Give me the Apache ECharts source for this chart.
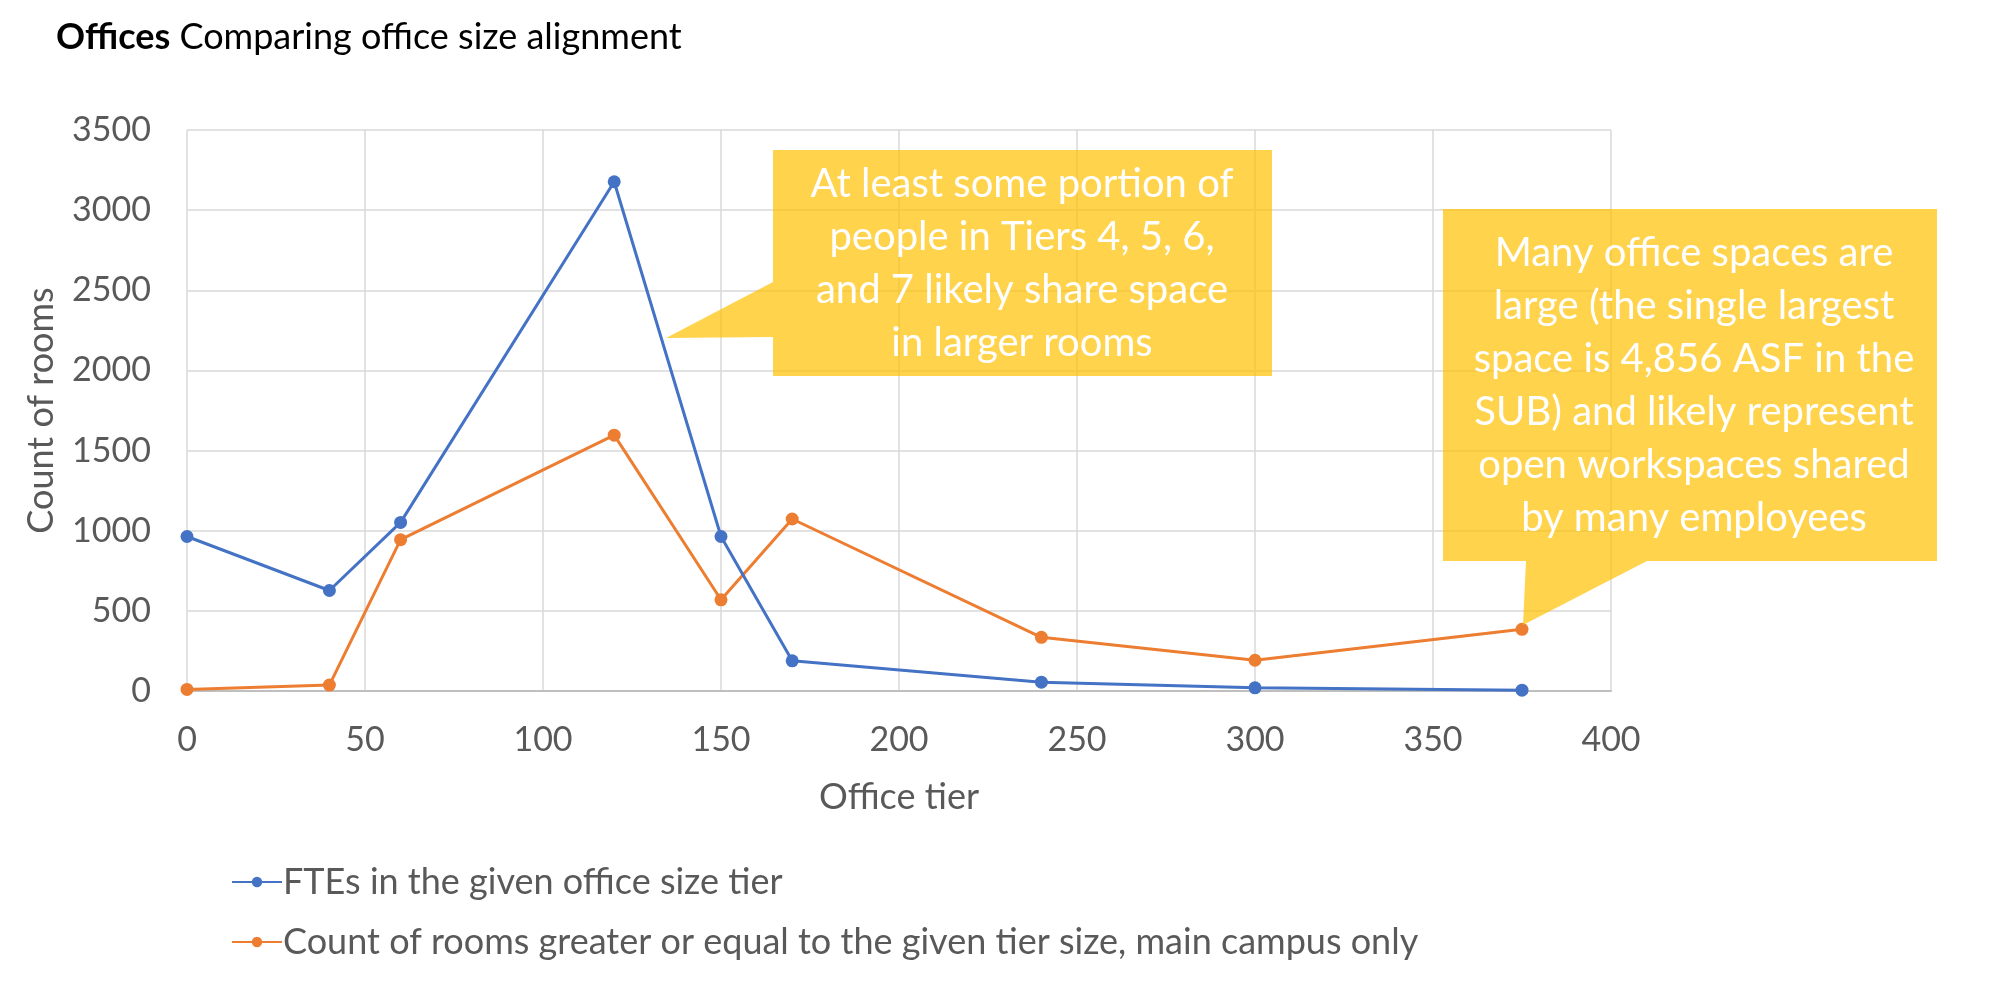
<!DOCTYPE html>
<html>
<head>
    <meta charset="utf-8">
    <title>Offices</title>
    <script src="https://cdn.jsdelivr.net/npm/echarts@6/dist/echarts.min.js"></script>
    <style>
        html, body { margin: 0; padding: 0; background: #fff; }
    </style>
</head>
<body>
    <div id="main" style="width: 2000px;height:1001px;"></div>
    <script type="text/javascript">
        // office tier (x) and the two series
        var tiers = [0, 40, 60, 120, 150, 170, 240, 300, 375];
        var ftes = [964, 627, 1052, 3177, 964, 188, 55, 20, 5];
        var rooms = [10, 37, 944, 1596, 569, 1073, 335, 192, 385];
        var seriesNames = [
            'FTEs in the given office size tier',
            'Count of rooms greater or equal to the given tier size, main campus only'
        ];
        var note1 = 'At least some portion of\npeople in Tiers 4, 5, 6,\nand 7 likely share space\nin larger rooms';
        var note2 = 'Many office spaces are\nlarge (the single largest\nspace is 4,856 ASF in the\nSUB) and likely represent\nopen workspaces shared\nby many employees';

        var FONT = 'Lato';
        var myChart = echarts.init(document.getElementById('main'));

        function pairs(xs, ys) {
            var out = [];
            for (var i = 0; i < xs.length; i++) {
                out.push([xs[i], ys[i]]);
            }
            return out;
        }

        var calloutFill = 'rgba(255,192,0,0.7)';

        var option = {
            animation: false,
            title: {
                left: 51,
                top: 14,
                text: '{b|Offices} Comparing office size alignment',
                textStyle: {
                    fontFamily: FONT, fontSize: 36, color: '#000', fontWeight: 'normal',
                    rich: {
                        b: { fontFamily: FONT, fontSize: 36, color: '#000', fontWeight: 'bold' }
                    }
                }
            },
            legend: {
                orient: 'vertical',
                left: 226,
                top: 859,
                itemWidth: 50,
                itemHeight: 13,
                itemGap: 24,
                textStyle: { fontFamily: FONT, fontSize: 36, color: '#595959', padding: [0, 0, 0, -4] },
                data: seriesNames
            },
            grid: { left: 187, right: 389, top: 130, bottom: 310 },
            xAxis: {
                type: 'value',
                min: 0, max: 400, interval: 50,
                name: 'Office tier',
                nameLocation: 'middle',
                nameGap: 88,
                nameTextStyle: { fontFamily: FONT, fontSize: 36, color: '#595959' },
                axisLine: { show: true, lineStyle: { color: '#BFBFBF', width: 2 } },
                axisTick: { show: false },
                axisLabel: { fontFamily: FONT, fontSize: 34, color: '#595959', margin: 32 },
                splitLine: { show: true, lineStyle: { color: '#D9D9D9', width: 1.5 } }
            },
            yAxis: {
                type: 'value',
                min: 0, max: 3500, interval: 500,
                name: 'Count of rooms',
                nameLocation: 'middle',
                nameGap: 128,
                nameTextStyle: { fontFamily: FONT, fontSize: 36, color: '#595959' },
                axisLine: { show: false },
                axisTick: { show: false },
                axisLabel: {
                    fontFamily: FONT, fontSize: 34, color: '#595959', margin: 36,
                    formatter: function (v) { return String(v); }
                },
                splitLine: { show: true, lineStyle: { color: '#D9D9D9', width: 1.5 } }
            },
            series: [{
                name: seriesNames[0],
                type: 'line',
                data: pairs(tiers, ftes),
                symbol: 'circle',
                symbolSize: 13,
                color: '#4472C4',
                lineStyle: { width: 3 },
                z: 3
            }, {
                name: seriesNames[1],
                type: 'line',
                data: pairs(tiers, rooms),
                symbol: 'circle',
                symbolSize: 13,
                color: '#ED7D31',
                lineStyle: { width: 3 },
                z: 2
            }],
            graphic: [{
                type: 'polygon',
                z: 10,
                shape: { points: [[773, 150], [1272, 150], [1272, 376], [773, 376], [773, 337], [666, 338], [773, 282]] },
                style: { fill: calloutFill }
            }, {
                type: 'text',
                z: 11,
                style: {
                    text: note1, x: 1022, y: 264,
                    align: 'center', verticalAlign: 'middle',
                    fill: '#fff', font: '40px ' + FONT, lineHeight: 53
                }
            }, {
                type: 'polygon',
                z: 10,
                shape: { points: [[1443, 209], [1937, 209], [1937, 561], [1647, 561], [1523, 625], [1526, 561], [1443, 561]] },
                style: { fill: calloutFill }
            }, {
                type: 'text',
                z: 11,
                style: {
                    text: note2, x: 1694, y: 386,
                    align: 'center', verticalAlign: 'middle',
                    fill: '#fff', font: '40px ' + FONT, lineHeight: 53
                }
            }]
        };

        myChart.setOption(option);
    </script>
</body>
</html>
